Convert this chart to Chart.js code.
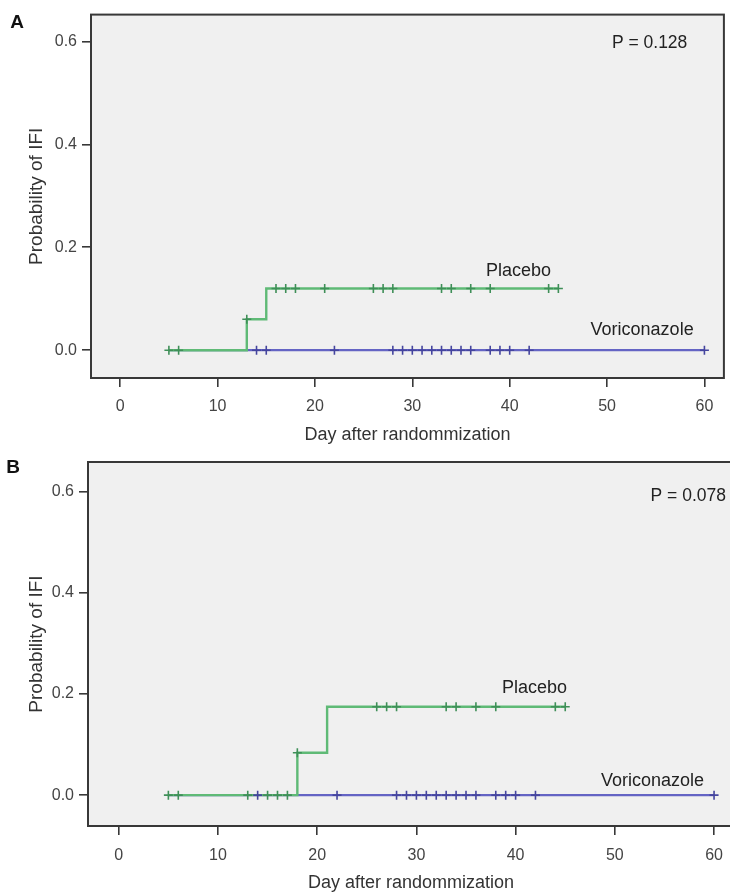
<!DOCTYPE html>
<html><head><meta charset="utf-8">
<script src="https://cdn.jsdelivr.net/npm/chart.js@4.4.0/dist/chart.umd.min.js"></script>
<style>
html,body{margin:0;padding:0;background:#fff;}
#wrap{position:relative;width:730px;height:894px;overflow:hidden;background:#fff;}
#pa{position:absolute;left:0;top:0;width:730px;height:446px;}
#pb{position:absolute;left:0;top:446px;width:740px;height:448px;}
</style></head><body>
<div id="wrap"><div id="pa"><canvas id="ca" width="730" height="446"></canvas></div><div id="pb"><canvas id="cb" width="740" height="448"></canvas></div></div>
<script>
// ---- data ----
const xTickValues = [0, 10, 20, 30, 40, 50, 60];
const yTickValues = [0, 0.2, 0.4, 0.6];
const xTitle = 'Day after randommization';
const yTitle = 'Probability of IFI';
const seriesNames = ['Placebo', 'Voriconazole'];

// Panel A
const placeboA_times = [5, 13, 15, 45];
const placeboA_prob = [0, 0.06, 0.12, 0.12];
const placeboA_censored = [5, 6, 13, 16, 17, 18, 21, 26, 27, 28, 33, 34, 36, 38, 44, 45];
const voriA_times = [5, 60];
const voriA_prob = [0, 0];
const voriA_censored = [14, 15, 22, 28, 29, 30, 31, 32, 33, 34, 35, 36, 38, 39, 40, 42, 60];
const pTextA = 'P = 0.128';

// Panel B
const placeboB_times = [5, 18, 21, 45];
const placeboB_prob = [0, 0.084, 0.175, 0.175];
const placeboB_censored = [5, 6, 13, 15, 16, 17, 18, 26, 27, 28, 33, 34, 36, 38, 44, 45];
const voriB_times = [5, 60];
const voriB_prob = [0, 0];
const voriB_censored = [14, 22, 28, 29, 30, 31, 32, 33, 34, 35, 36, 38, 39, 40, 42, 60];
const pTextB = 'P = 0.078';

// ---- helpers ----
const FONT = "'Liberation Sans', Arial, sans-serif";
const GREEN_LINE = '#5fba76', GREEN_MARK = '#3f8f58';
const BLUE_LINE = '#6464c4', BLUE_MARK = '#45459e';

function stepValue(times, probs, t) {
  let v = probs[0];
  for (let i = 0; i < times.length; i++) if (times[i] <= t) v = probs[i];
  return v;
}
function curvePoints(times, probs) { return times.map((t, i) => ({x: t, y: probs[i]})); }
function censorPoints(times, probs, cens) { return cens.map(c => ({x: c, y: stepValue(times, probs, c)})); }

const framePlugin = {
  id: 'frame',
  beforeDraw(chart) {
    const {ctx, chartArea: a} = chart;
    ctx.save();
    ctx.fillStyle = '#ffffff';
    ctx.fillRect(0, 0, chart.width, chart.height);
    ctx.fillStyle = '#f0f0f0';
    ctx.fillRect(a.left, a.top, a.right - a.left, a.bottom - a.top);
    ctx.strokeStyle = '#383838';
    ctx.lineWidth = 2;
    ctx.strokeRect(a.left, a.top, a.right - a.left, a.bottom - a.top);
    ctx.restore();
  }
};
const annotPlugin = {
  id: 'annot',
  afterDatasetsDraw(chart, args, opts) {
    const {ctx} = chart;
    const xs = chart.scales.x, ys = chart.scales.y;
    ctx.save();
    (opts.items || []).forEach(it => {
      ctx.font = it.font;
      ctx.fillStyle = it.color || '#222';
      ctx.textAlign = it.align || 'center';
      ctx.textBaseline = 'middle';
      const px = it.px != null ? it.px : xs.getPixelForValue(it.x);
      const py = it.py != null ? it.py : ys.getPixelForValue(it.y);
      ctx.fillText(it.text, px, py);
    });
    ctx.restore();
  }
};

function makePanel(id, p) {
  return new Chart(document.getElementById(id), {
    type: 'scatter',
    data: {datasets: [
      {label: seriesNames[0] + ' censored', data: censorPoints(p.plT, p.plP, p.plC), showLine: false,
       pointStyle: 'cross', pointRadius: 4.5, pointBorderColor: GREEN_MARK, pointBorderWidth: 1.6, borderColor: GREEN_MARK},
      {label: seriesNames[1] + ' censored', data: censorPoints(p.vT, p.vP, p.vC), showLine: false,
       pointStyle: 'cross', pointRadius: 4.5, pointBorderColor: BLUE_MARK, pointBorderWidth: 1.6, borderColor: BLUE_MARK},
      {label: seriesNames[0], data: curvePoints(p.plT, p.plP), showLine: true, stepped: 'before',
       borderColor: GREEN_LINE, borderWidth: 2.4, pointRadius: 0, fill: false},
      {label: seriesNames[1], data: curvePoints(p.vT, p.vP), showLine: true, stepped: 'before',
       borderColor: BLUE_LINE, borderWidth: 2.2, pointRadius: 0, fill: false}
    ]},
    options: {
      responsive: false, animation: false, devicePixelRatio: 1,
      layout: {padding: {top: p.padTop, right: p.padRight, left: 0, bottom: 0}},
      plugins: {legend: {display: false}, tooltip: {enabled: false}, annot: {items: p.labels}},
      scales: {
        x: {
          type: 'linear', min: p.xMin, max: p.xMax,
          afterFit(s) { s.height = p.xAxisH; },
          afterBuildTicks(s) { s.ticks = xTickValues.map(v => ({value: v})); },
          ticks: {callback: v => String(v), font: {family: FONT, size: 16}, color: '#444', padding: p.xTickPad, maxRotation: 0, autoSkip: false},
          grid: {drawOnChartArea: false, drawTicks: true, tickLength: 9, color: '#383838', lineWidth: 1.6},
          border: {display: false},
          title: {display: true, text: xTitle, font: {family: FONT, size: 18}, color: '#333', padding: {top: 0, bottom: p.xTitlePad}}
        },
        y: {
          type: 'linear', min: p.yMin, max: p.yMax,
          afterFit(s) { s.width = p.yAxisW; },
          afterBuildTicks(s) { s.ticks = yTickValues.map(v => ({value: v})); },
          ticks: {callback: v => Number(v).toFixed(1), font: {family: FONT, size: 16}, color: '#444', padding: 5},
          grid: {drawOnChartArea: false, drawTicks: true, tickLength: 9, color: '#383838', lineWidth: 1.6},
          border: {display: false},
          title: {display: true, text: yTitle, font: {family: FONT, size: 19}, color: '#333', padding: {top: 25, bottom: 0}}
        }
      }
    },
    plugins: [framePlugin, annotPlugin]
  });
}

makePanel('ca', {
  plT: placeboA_times, plP: placeboA_prob, plC: placeboA_censored,
  vT: voriA_times, vP: voriA_prob, vC: voriA_censored,
  xMin: -3, xMax: 62, yMin: -0.054, yMax: 0.652,
  padTop: 12, padRight: 3, yAxisW: 91, xAxisH: 68, xTickPad: 10, xTitlePad: 0,
  labels: [
    {text: 'A', px: 17, py: 23, font: "bold 19px " + FONT, color: '#111'},
    {text: seriesNames[0], x: 40.9, y: 0.154, font: "18px " + FONT},
    {text: seriesNames[1], x: 53.6, y: 0.039, font: "18px " + FONT},
    {text: pTextA, x: 50.5, y: 0.596, font: "17.5px " + FONT, align: 'left'}
  ]
});
makePanel('cb', {
  plT: placeboB_times, plP: placeboB_prob, plC: placeboB_censored,
  vT: voriB_times, vP: voriB_prob, vC: voriB_censored,
  xMin: -3.1, xMax: 62, yMin: -0.061, yMax: 0.659,
  padTop: 16, padRight: 5, yAxisW: 88, xAxisH: 68, xTickPad: 11, xTitlePad: 0,
  labels: [
    {text: 'B', px: 13, py: 22, font: "bold 19px " + FONT, color: '#111'},
    {text: seriesNames[0], x: 41.9, y: 0.212, font: "18px " + FONT},
    {text: seriesNames[1], x: 53.8, y: 0.028, font: "18px " + FONT},
    {text: pTextB, x: 53.6, y: 0.592, font: "17.5px " + FONT, align: 'left'}
  ]
});
</script>
</body></html>
